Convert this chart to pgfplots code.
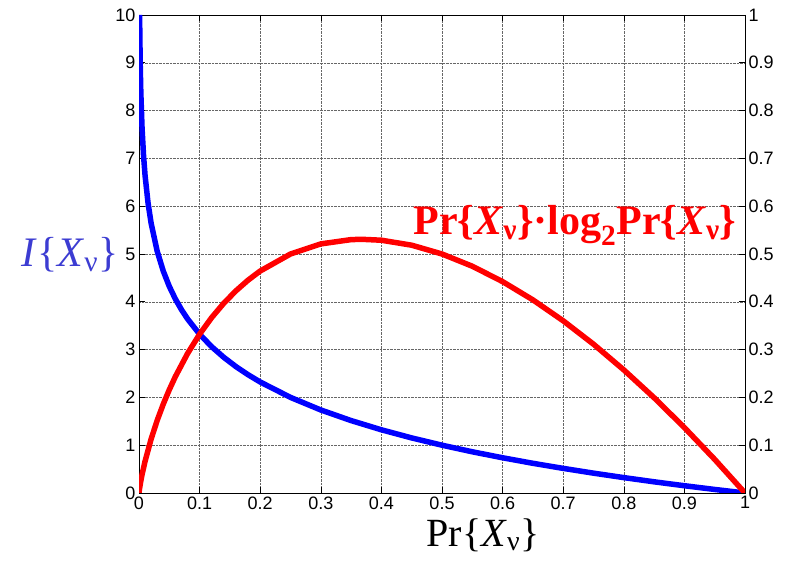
\documentclass[border=0pt]{standalone}
\usepackage{fontspec}
\setmainfont{Liberation Serif}
\newfontfamily\arialf{Liberation Sans}
\usepackage{pgfplots}
\pgfplotsset{compat=1.18}
\definecolor{lblblue}{RGB}{60,60,210}

\begin{document}
\begin{tikzpicture}
\useasboundingbox (0,0) rectangle (787pt,564pt);
\pgfplotsset{every axis/.append style={
  scale only axis, width=606pt, height=478pt,
  at={(139pt,71pt)}, anchor=origin,
  xmin=0, xmax=1,
  tick align=inside, major tick length=6pt,
  tick style={black, line width=0.6pt},
  axis line style={line width=0.8pt},
  ticklabel style={font=\arialf\fontsize{18}{18}\selectfont},
  /pgf/number format/assume math mode=true,
}}
% left axis: self-information
\begin{axis}[
  ymin=0, ymax=10,
  ytick={0,1,2,3,4,5,6,7,8,9,10},
  xtick={0,0.1,0.2,0.3,0.4,0.5,0.6,0.7,0.8,0.9,1},
  ytick pos=left, xtick pos=both,
  grid=major, grid style={densely dotted, black!60, line width=0.5pt},
]
\addplot[color=blue, line width=5.5pt] coordinates {
  (0.000977,10)(0.001,9.966)(0.002,8.966)(0.003,8.381)(0.005,7.644)
  (0.0075,7.058)(0.01,6.644)(0.015,6.059)(0.02,5.644)(0.03,5.059)
  (0.04,4.644)(0.05,4.322)(0.06,4.059)(0.07,3.837)(0.08,3.644)
  (0.1,3.322)(0.12,3.059)(0.14,2.837)(0.16,2.644)(0.18,2.474)
  (0.2,2.322)(0.25,2.0)(0.3,1.737)(0.35,1.515)(0.4,1.322)
  (0.45,1.152)(0.5,1.0)(0.55,0.862)(0.6,0.737)(0.65,0.621)
  (0.7,0.515)(0.75,0.415)(0.8,0.322)(0.85,0.234)(0.9,0.152)
  (0.95,0.074)(1.0,0)};
\end{axis}
% right axis: entropy term
\begin{axis}[
  ymin=0, ymax=1,
  axis y line*=right, axis x line=none,
  ytick={0,0.1,0.2,0.3,0.4,0.5,0.6,0.7,0.8,0.9,1},
]
\addplot[color=red, line width=5.5pt] coordinates {
  (0,0)(0.001,0.00997)(0.003,0.0251)(0.005,0.0382)(0.01,0.0664)
  (0.02,0.1129)(0.03,0.1518)(0.04,0.1858)(0.05,0.2161)(0.06,0.2435)
  (0.08,0.2915)(0.1,0.3322)(0.12,0.3671)(0.14,0.3971)(0.16,0.4230)
  (0.18,0.4453)(0.2,0.4644)(0.25,0.5)(0.3,0.5211)(0.35,0.5301)
  (0.3679,0.5307)(0.4,0.5288)(0.45,0.5184)(0.5,0.5)(0.55,0.4744)
  (0.6,0.4422)(0.65,0.4040)(0.7,0.3602)(0.75,0.3113)(0.8,0.2575)
  (0.85,0.1993)(0.9,0.1368)(0.95,0.0703)(1.0,0)};
\end{axis}
\node[text=lblblue, font=\fontsize{42}{42}\selectfont] at (70pt,309pt)
  {\textit{I}\{\textit{X}\textsubscript{ν}\}};
\node[text=red, font=\bfseries\fontsize{42}{42}\selectfont] at (575pt,339pt)
  {Pr\{\textit{X}\textsubscript{ν}\}·log\textsubscript{2}Pr\{\textit{X}\textsubscript{ν}\}};
\node[font=\fontsize{40}{40}\selectfont] at (483pt,29pt)
  {Pr\{\textit{X}\textsubscript{ν}\}};
\end{tikzpicture}
\end{document}
